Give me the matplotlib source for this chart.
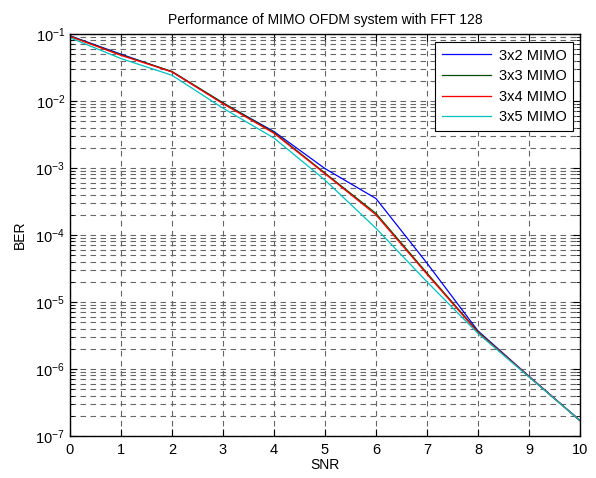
import matplotlib
matplotlib.use("Agg")
import matplotlib.pyplot as plt
from matplotlib.ticker import LogLocator, NullFormatter, FixedLocator

plt.rcParams['font.family'] = ['Liberation Sans', 'DejaVu Sans']
plt.rcParams['mathtext.fontset'] = 'custom'
plt.rcParams['mathtext.rm'] = 'Liberation Sans'
plt.rcParams['mathtext.it'] = 'Liberation Sans:italic'
plt.rcParams['mathtext.bf'] = 'Liberation Sans:bold'

snr = [0, 1, 2, 3, 4, 5, 6, 7, 8, 9, 10]
ber_3x2 = [0.094, 0.050, 0.0272, 0.0093, 0.0035, 0.00098, 0.00035, 3.8e-5, 3.7e-6, 7.8e-7, 1.7e-7]
ber_3x3 = [0.093, 0.049, 0.0276, 0.0094, 0.0034, 0.00084, 0.00021, 2.7e-5, 3.6e-6, 7.7e-7, 1.7e-7]
ber_3x4 = [0.092, 0.048, 0.0272, 0.0091, 0.0033, 0.00082, 0.00020, 2.6e-5, 3.5e-6, 7.7e-7, 1.7e-7]
ber_3x5 = [0.088, 0.043, 0.0242, 0.0078, 0.0028, 0.00066, 0.000126, 2.0e-5, 3.4e-6, 7.6e-7, 1.7e-7]
labels = ['3x2 MIMO', '3x3 MIMO', '3x4 MIMO', '3x5 MIMO']
decades = [1e-7, 1e-6, 1e-5, 1e-4, 1e-3, 1e-2, 1e-1]

fig = plt.figure(figsize=(5.96, 4.78), dpi=100)
ax = fig.add_axes([0.1174, 0.0879, 0.8557, 0.841])

ax.semilogy(snr, ber_3x2, color='b', lw=0.9, label=labels[0])
ax.semilogy(snr, ber_3x3, color='#004d00', lw=0.9, label=labels[1])
ax.semilogy(snr, ber_3x4, color='r', lw=0.95, label=labels[2])
ax.semilogy(snr, ber_3x5, color='#00c0c0', lw=0.9, label=labels[3])

ax.set_xlim(0, 10)
ax.set_ylim(1e-7, 1e-1)
ax.set_xticks(range(0, 11))
ax.yaxis.set_major_locator(FixedLocator(decades))
ax.yaxis.set_minor_locator(LogLocator(base=10, subs=range(2, 10), numticks=20))
ax.yaxis.set_minor_formatter(NullFormatter())

ax.grid(True, which='major', axis='both', color='0.4', linestyle=(0, (5, 4)), lw=0.8)
ax.grid(True, which='minor', axis='y', color='0.4', linestyle=(0, (5, 4)), lw=0.8)
ax.tick_params(which='both', direction='in', top=True, right=True, labelsize=10.5)
ax.tick_params(axis='x', pad=5)
ax.tick_params(which='major', length=5)
ax.tick_params(which='minor', length=3)
for s in ax.spines.values():
    s.set_linewidth(1.0)

ax.set_title('Performance of MIMO OFDM system with FFT 128', fontsize=10, pad=7)
ax.set_xlabel('SNR', fontsize=10, labelpad=1)
ax.set_ylabel('BER', fontsize=10, labelpad=6)

leg = ax.legend(loc='upper right', bbox_to_anchor=(0.986, 0.98), fontsize=10.5,
                fancybox=False, framealpha=1, edgecolor='k', borderaxespad=0,
                handlelength=3.4, labelspacing=0.45, borderpad=0.45,
                handletextpad=0.5)
leg.get_frame().set_linewidth(0.8)

fig.savefig('out.png', dpi=100)
